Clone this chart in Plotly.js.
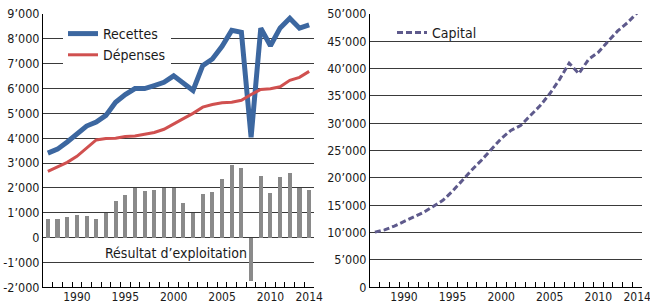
<!DOCTYPE html>
<html><head><meta charset="utf-8">
<script src="https://cdn.plot.ly/plotly-3.0.1.min.js"></script>
<style>html,body{margin:0;padding:0;background:#fff}#chart{width:650px;height:304px}</style>
</head><body><div id="chart"></div><script>
const years = [1987,1988,1989,1990,1991,1992,1993,1994,1995,1996,1997,1998,1999,2000,2001,2002,2003,2004,2005,2006,2007,2008,2009,2010,2011,2012,2013,2014];
const recettes = [3400,3560,3850,4200,4490,4650,4920,5450,5760,6000,6000,6120,6250,6510,6200,5920,6920,7190,7700,8340,8260,4040,8430,7720,8440,8830,8430,8560];
const depenses = [2670,2850,3030,3270,3590,3930,3990,4000,4070,4090,4160,4230,4360,4560,4790,5000,5250,5360,5430,5450,5530,5760,5960,5990,6070,6330,6450,6690];
const resultat = [730,760,840,920,880,730,980,1490,1730,2000,1890,1930,2000,2000,1410,990,1760,1850,2360,2930,2800,-1750,2490,1810,2440,2600,1990,1920];
const capital = [10100,10500,11200,12000,12800,13700,14800,15900,17600,19600,21500,23300,25200,27200,28700,29600,31400,33200,35400,38000,41000,39100,41700,43000,45000,46900,48400,50200];
const xLabelYears = [1990,1995,2000,2005,2010,2014];
const leftTicks = [-2000,-1000,0,1000,2000,3000,4000,5000,6000,7000,8000,9000];
const rightTicks = [0,5000,10000,15000,20000,25000,30000,35000,40000,45000,50000];

function fmt(v){
  if(v===0) return '0';
  const s = Math.abs(v).toString().replace(/\B(?=(\d{3})+(?!\d))/g,'\u2019');
  return (v<0?'-':'')+s;
}
const boundaries = years.slice(0,-1).map(y=>y+0.5);
const FONT = "'DejaVu Sans Condensed','Liberation Sans Narrow',Roboto,sans-serif";
const TXT = '#1a1a1a';
const GRID = '#3a3a3a';

const xCommon = {
  range:[years[0]-0.5, years[years.length-1]+0.5],
  tickmode:'array', tickvals:xLabelYears, ticktext:xLabelYears.map(String),
  ticks:'', showgrid:false, zeroline:false,
  showline:true, linecolor:'#000', linewidth:1,
  tickfont:{family:FONT,size:12,color:TXT},
  ticklabeloverflow:'allow', ticklabelstandoff:-2,
  minor:{tickmode:'array', tickvals:boundaries, ticks:'inside', ticklen:5, tickcolor:'#000', tickwidth:1, showgrid:false},
  fixedrange:true
};
const yCommon = {
  tickmode:'array', ticks:'', showgrid:true, gridcolor:GRID, gridwidth:1,
  zeroline:false, showline:true, linecolor:'#000', linewidth:1,
  tickfont:{family:FONT,size:12.5,color:TXT}, fixedrange:true
};

const traces = [
  {type:'bar', x:years, y:resultat, xaxis:'x', yaxis:'y', marker:{color:'#8a8a8a'}, width:0.42, showlegend:false, hoverinfo:'skip'},
  {type:'scatter', mode:'lines', x:years, y:recettes, name:'Recettes', xaxis:'x', yaxis:'y', line:{color:'#3c67a0', width:5}},
  {type:'scatter', mode:'lines', x:years, y:depenses, name:'Dépenses', xaxis:'x', yaxis:'y', line:{color:'#d0504f', width:3}},
  {type:'scatter', mode:'lines', x:years, y:capital, name:'Capital', xaxis:'x2', yaxis:'y2', legend:'legend2', line:{color:'#5e5a8c', width:3, dash:'6px,3px'}}
];

const layout = {
  width:650, height:304,
  margin:{l:0,r:0,t:0,b:0},
  paper_bgcolor:'#fff', plot_bgcolor:'#fff',
  font:{family:FONT, color:TXT},
  bargap:0,
  xaxis:Object.assign({}, xCommon, {domain:[43/650, 314/650], anchor:'y'}),
  yaxis:Object.assign({}, yCommon, {domain:[16.7/304, 290/304], range:[-2000,9000], tickvals:leftTicks, ticktext:leftTicks.map(fmt), anchor:'x'}),
  xaxis2:Object.assign({}, xCommon, {domain:[370/650, 642/650], anchor:'y2'}),
  yaxis2:Object.assign({}, yCommon, {domain:[16.7/304, 290/304], range:[0,50000], tickvals:rightTicks, ticktext:rightTicks.map(fmt), anchor:'x2'}),
  legend:{x:63/650, y:(304-18)/304, xanchor:'left', yanchor:'top', bgcolor:'#fff', borderwidth:0, font:{family:FONT,size:14,color:TXT}, tracegroupgap:0},
  legend2:{x:392/650, y:(304-17)/304, xanchor:'left', yanchor:'top', bgcolor:'rgba(0,0,0,0)', borderwidth:0, font:{family:FONT,size:14,color:TXT}},
  annotations:[{x:2000.2, y:-614, xref:'x', yref:'y', text:'Résultat d\u2019exploitation', showarrow:false, font:{family:FONT,size:14,color:TXT}}],
  showlegend:true
};
Plotly.newPlot('chart', traces, layout, {staticPlot:true, displayModeBar:false});
</script></body></html>
